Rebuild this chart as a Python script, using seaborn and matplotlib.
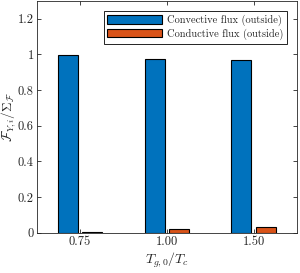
import pandas as pd
import matplotlib
matplotlib.use("Agg")
import matplotlib.pyplot as plt
import seaborn as sns

# data
temps = ["0.75", "1.00", "1.50"]
convective = [0.996, 0.976, 0.966]
conductive = [0.004, 0.024, 0.034]
series = ["Convective flux (outside)", "Conductive flux (outside)"]
yticks = [0, 0.2, 0.4, 0.6, 0.8, 1.0, 1.2]
ytick_labels = ["0", "0.2", "0.4", "0.6", "0.8", "1", "1.2"]

df = pd.DataFrame({
    "T": temps * 2,
    "val": convective + conductive,
    "kind": [series[0]] * 3 + [series[1]] * 3,
})

sns.set_style("white")
plt.rcParams["font.family"] = ["cmr10", "DejaVu Serif"]
plt.rcParams["mathtext.fontset"] = "cm"
plt.rcParams["axes.unicode_minus"] = False

fig = plt.figure(figsize=(3.0, 2.73), dpi=100)
ax = fig.add_axes([0.122, 0.147, 0.868, 0.85])

sns.barplot(data=df, x="T", y="val", hue="kind", hue_order=series,
            palette=["#0072BD", "#D95319"], saturation=1, width=0.56, gap=0.18,
            edgecolor="black", linewidth=0.8, ax=ax)

ax.set_xlim(-0.5, 2.5)
ax.set_ylim(0, 1.3)
ax.set_yticks(yticks)
ax.set_yticklabels(ytick_labels)
ax.tick_params(direction="in", length=3, width=0.6, labelsize=9,
               top=True, right=True, left=True, bottom=True, pad=2)
for s in ax.spines.values():
    s.set_linewidth(0.6)
    s.set_color("#262626")

ax.set_xlabel(r"$T_{g,0}/T_c$", fontsize=10, labelpad=2)
ax.set_ylabel(r"$\mathcal{F}_{Y,i}/\Sigma_{\mathcal{F}}$", fontsize=9.5, labelpad=0)

leg = ax.legend(loc="upper right", fontsize=7.5, frameon=True, fancybox=False,
                edgecolor="black", framealpha=1, handlelength=5.3,
                handleheight=0.85, borderaxespad=1.0, borderpad=0.35,
                labelspacing=0.25, handletextpad=0.4)
leg.get_frame().set_linewidth(0.6)

fig.savefig("out.png", dpi=100)
